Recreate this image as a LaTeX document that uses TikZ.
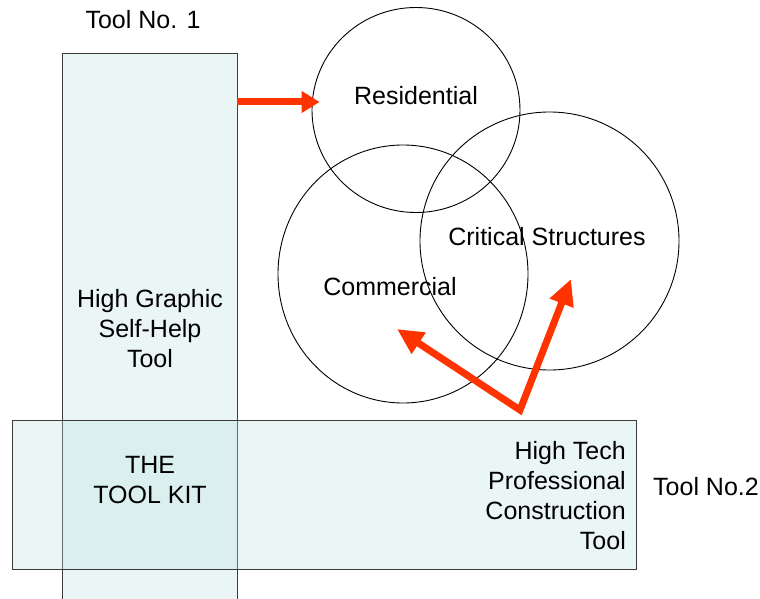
\documentclass[tikz,border=0pt]{standalone}
\usepackage{fontspec}
\setmainfont{Liberation Sans}
\usetikzlibrary{arrows.meta,positioning,shapes.geometric}
\definecolor{tkcyan}{RGB}{185,224,224}
\definecolor{tkedge}{RGB}{60,60,60}
\definecolor{tkred}{RGB}{255,51,0}
\tikzstyle{toolbox} = [draw=tkedge, line width=0.9pt, fill=tkcyan, fill opacity=0.3, draw opacity=1, inner sep=0pt, outer sep=0pt]
\tikzstyle{sector} = [draw=black, line width=0.9pt, ellipse, inner sep=0pt]
\tikzstyle{caption} = [font=\fontsize{25}{30}\selectfont, align=center, inner sep=0pt]
\tikzstyle{bigarrow} = [line width=7pt, color=tkred, line join=miter]

\begin{document}
\begin{tikzpicture}[x=1pt, y=-1pt]
\useasboundingbox (0,0) rectangle (760,599);
% Tools
\node[toolbox, minimum width=175pt, minimum height=546pt] (toolone) at (149.5,326) {};
\node[toolbox, minimum width=624pt, minimum height=149pt] (tooltwo) at (324,494.5) {};

% Sectors
\node[sector, minimum width=208pt, minimum height=205pt] (residential) at (416,110) {};
\node[sector, minimum width=250pt, minimum height=258pt] (commercial) at (403,274) {};
\node[sector, minimum width=259pt, minimum height=258pt] (critical) at (549.5,241) {};

% Arrows
\draw[bigarrow, -{Triangle[length=18pt, width=21pt]}] ([yshift=8pt]toolone.east |- residential.west) -- ([shift={(8pt,8pt)}]residential.west);
\coordinate (fork) at (520,410);
\coordinate (commtip) at (397,329);
\coordinate (crittip) at (571,279);
\draw[bigarrow, {Triangle[length=26pt, width=24pt]}-{Triangle[length=26pt, width=24pt]}] (commtip) -- (fork) -- (crittip);

% Labels
\node[caption] (resname) at (416,96) {Residential};
\node[caption] (critname) at (547,237) {Critical Structures};
\node[caption] (commname) at (390,287) {Commercial};
\node[caption] (selfhelp) at (150,329) {High Graphic\\Self-Help\\Tool};
\node[caption] (kit) at (150,480.5) {THE\\TOOL KIT};
\node[caption, align=right, anchor=east] (hightech) at (626,496) {High Tech\\Professional\\Construction\\Tool};
\node[caption] (onename) at (143,20) {Tool No. 1};
\node[caption] (twoname) at (706,487) {Tool No.2};
\end{tikzpicture}
\end{document}
